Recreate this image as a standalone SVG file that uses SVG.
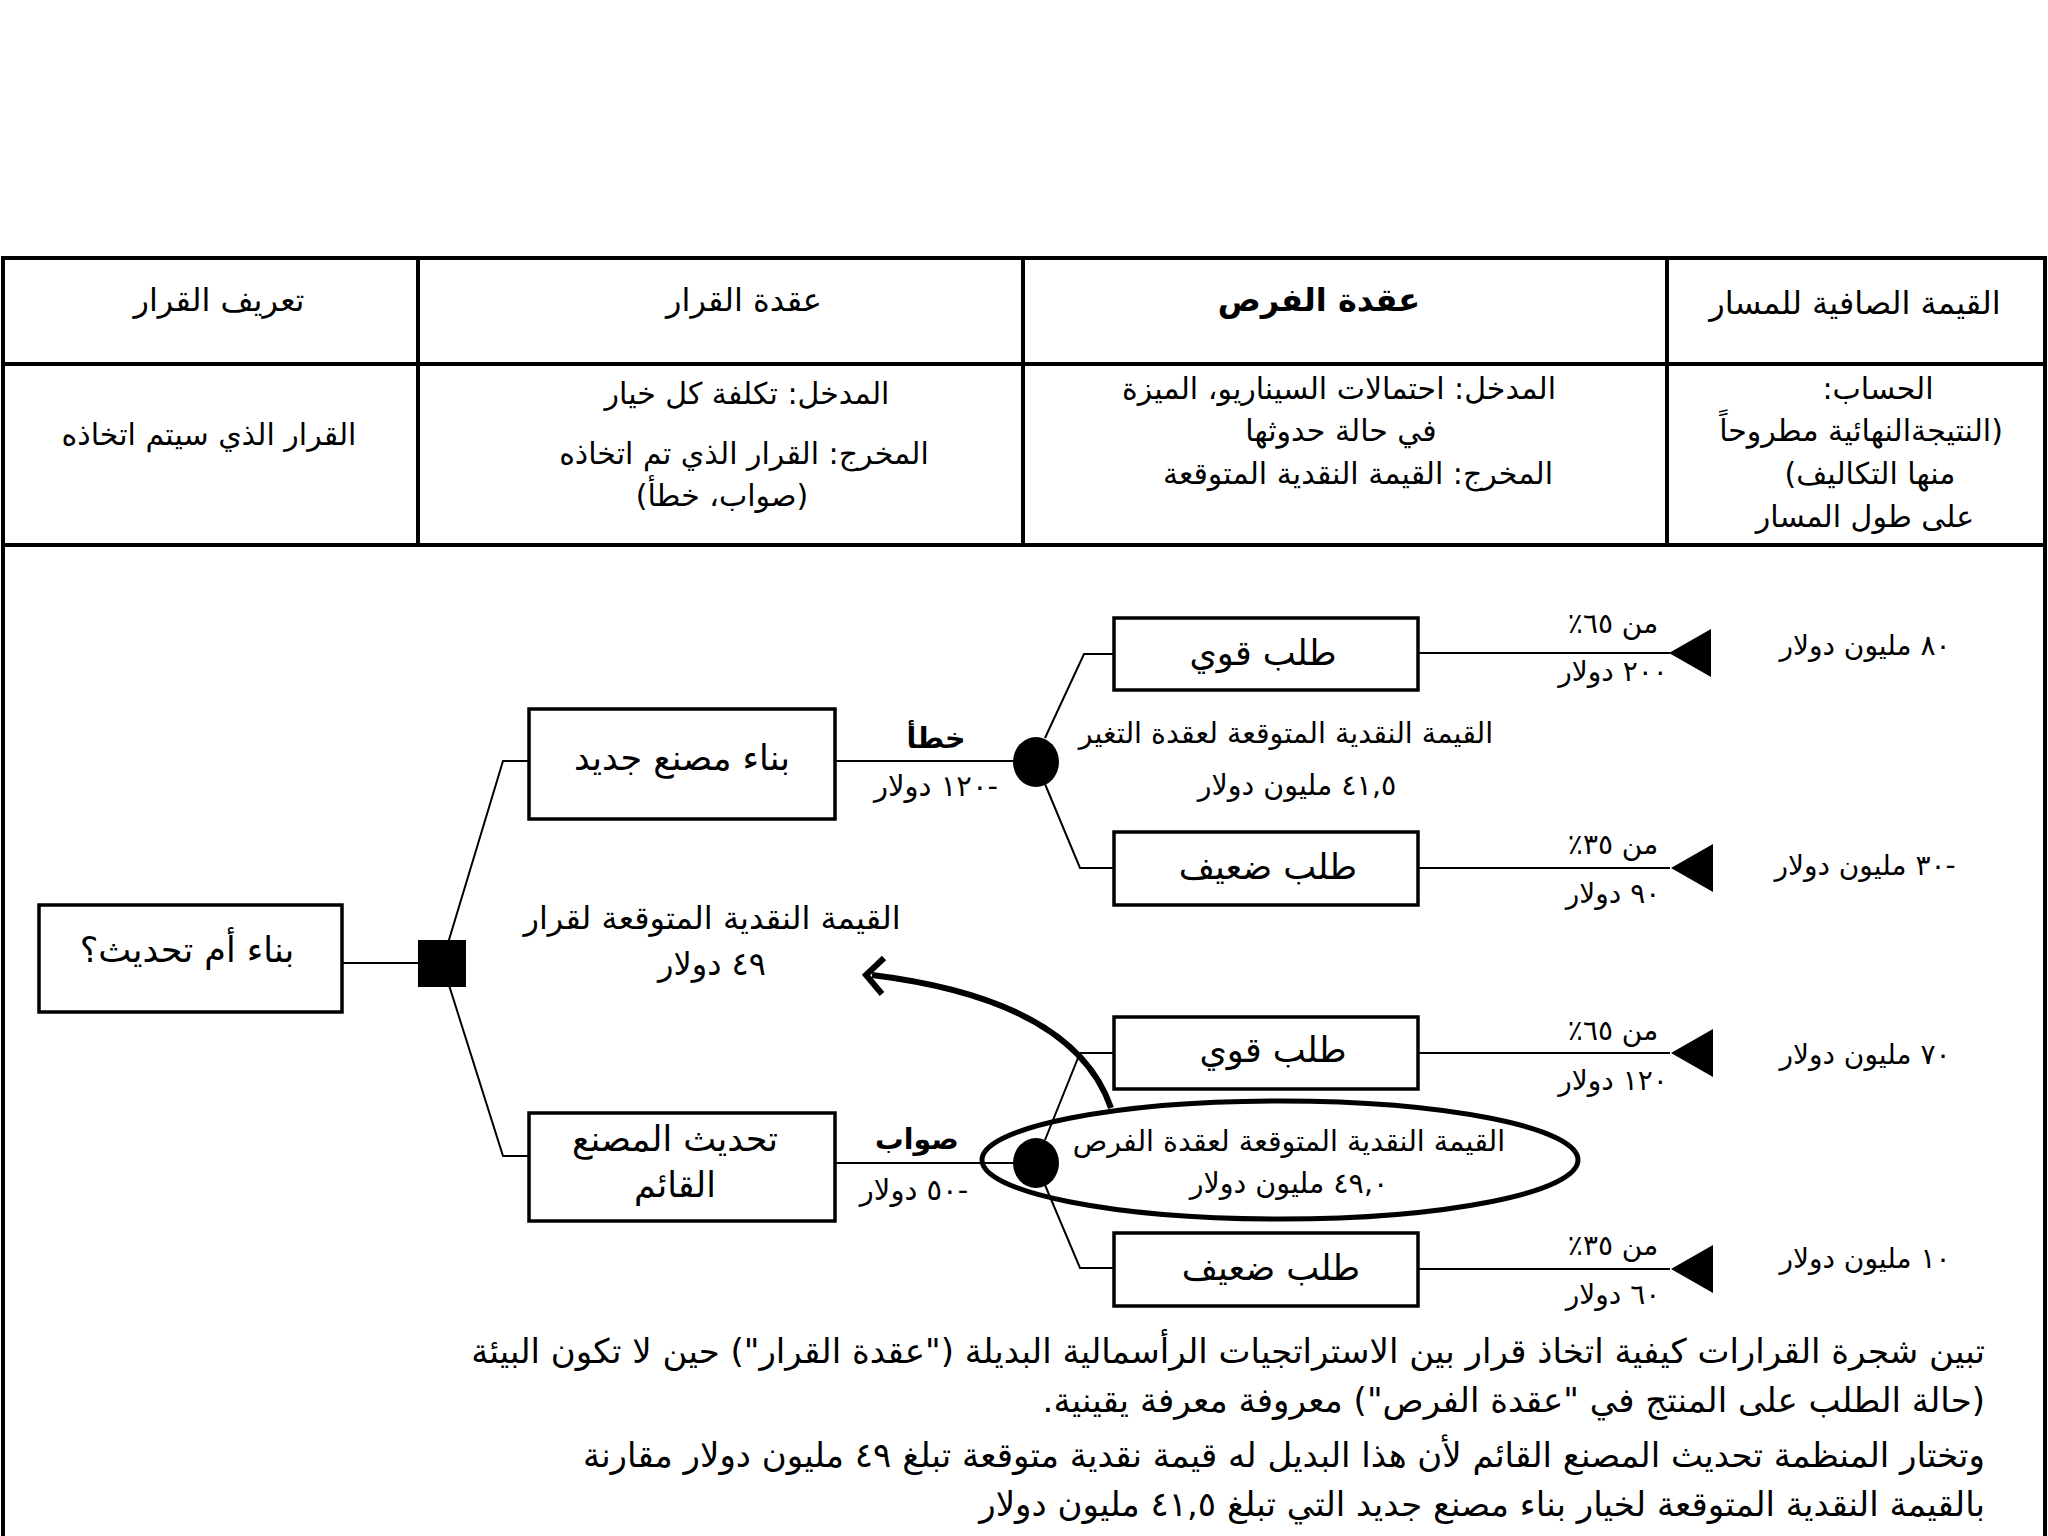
<svg xmlns="http://www.w3.org/2000/svg" width="2048" height="1536" viewBox="0 0 2048 1536">
<style>
text{font-family:"DejaVu Sans",sans-serif;fill:#000;direction:rtl;unicode-bidi:embed;text-anchor:middle}
.th{font-size:32px}
.tc{font-size:30px}
.nl{font-size:35px}
.sm{font-size:28px}
.ev{font-size:28.5px}
.am{font-size:29px}
.dv{font-size:32px}
.pr{font-size:34px;text-anchor:start}
.b{font-weight:bold}
.grid{stroke:#000;stroke-width:4;fill:none}
.box{fill:#fff;stroke:#000;stroke-width:3.5}
.ln{stroke:#000;stroke-width:2;fill:none}
</style>
<defs>
<polygon id="tri" points="0,0 42,-24 42,24" fill="#000"/>
</defs>
<rect width="2048" height="1536" fill="#fff"/>
<g id="table">
<path class="grid" d="M3,1536 V258 H2045 V1536 M3,364 H2045 M3,545 H2045 M418,258 V545 M1023,258 V545 M1667,258 V545"/>
<text class="th" x="219" y="311">تعريف القرار</text>
<text class="th" x="744" y="311">عقدة القرار</text>
<text class="th b" x="1319" y="311">عقدة الفرص</text>
<text class="th" x="1855" y="314">القيمة الصافية للمسار</text>
<text class="tc" x="209" y="445">القرار الذي سيتم اتخاذه</text>
<text class="tc" x="747" y="404">المدخل: تكلفة كل خيار</text>
<text class="tc" x="744" y="464">المخرج: القرار الذي تم اتخاذه</text>
<text class="tc" x="722" y="506">(صواب، خطأ)</text>
<text class="tc" x="1339" y="399">المدخل: احتمالات السيناريو، الميزة</text>
<text class="tc" x="1341" y="441">في حالة حدوثها</text>
<text class="tc" x="1358" y="484">المخرج: القيمة النقدية المتوقعة</text>
<text class="tc" x="1878" y="399">الحساب:</text>
<text class="tc" x="1861" y="441">(النتيجةالنهائية مطروحاً</text>
<text class="tc" x="1870" y="484">منها التكاليف)</text>
<text class="tc" x="1865" y="527">على طول المسار</text>
</g>
<g id="connectors">
<path class="ln" d="M342,963 H420"/>
<path class="ln" d="M442,963 L503,761 H530 M442,963 L503,1156 H530"/>
<path class="ln" d="M835,761 H1036"/>
<path class="ln" d="M1045,738 L1084,654 H1114 M1045,784 L1080,868 H1114"/>
<path class="ln" d="M1418,653 H1670 M1418,868 H1670"/>
<path class="ln" d="M835,1163 H1036"/>
<path class="ln" d="M1045,1140 L1080,1053 H1114 M1045,1185 L1080,1268 H1114"/>
<path class="ln" d="M1418,1053 H1670 M1418,1269 H1670"/>
</g>
<g id="root">
<rect class="box" x="39" y="905" width="303" height="107"/>
<text class="nl" x="187" y="962">بناء أم تحديث؟</text>
</g>
<g id="decision">
<rect x="418" y="940" width="48" height="47" fill="#000"/>
</g>
<g id="build">
<rect class="box" x="529" y="709" width="306" height="110"/>
<text class="nl" x="682" y="770">بناء مصنع جديد</text>
</g>
<g id="build-labels">
<text class="ev b" x="936" y="748">خطأ</text>
<text class="am" x="936" y="796">-١٢٠ دولار</text>
</g>
<g id="chance1">
<ellipse cx="1036" cy="762" rx="23" ry="25" fill="#000"/>
<text class="ev" x="1286" y="743">القيمة النقدية المتوقعة لعقدة التغير</text>
<text class="ev" x="1297" y="795">٤١,٥ مليون دولار</text>
</g>
<g id="strong1">
<rect class="box" x="1114" y="618" width="304" height="72"/>
<text class="nl" x="1263" y="665">طلب قوي</text>
</g>
<g id="weak1">
<rect class="box" x="1114" y="832" width="304" height="73"/>
<text class="nl" x="1268" y="879">طلب ضعيف</text>
</g>
<g id="end1">
<use href="#tri" x="1669" y="653"/>
<text class="sm" x="1613" y="633">من ٦٥٪</text>
<text class="sm" x="1613" y="681">٢٠٠ دولار</text>
<text class="sm" x="1865" y="655">٨٠ مليون دولار</text>
</g>
<g id="end2">
<use href="#tri" x="1671" y="868"/>
<text class="sm" x="1613" y="854">من ٣٥٪</text>
<text class="sm" x="1613" y="903">٩٠ دولار</text>
<text class="sm" x="1865" y="875">-٣٠ مليون دولار</text>
</g>
<g id="decision-ev">
<text class="dv" x="712" y="929">القيمة النقدية المتوقعة لقرار</text>
<text class="dv" x="712" y="975">٤٩ دولار</text>
</g>
<g id="upgrade">
<rect class="box" x="529" y="1113" width="306" height="108"/>
<text class="nl" x="675" y="1151">تحديث المصنع</text>
<text class="nl" x="675" y="1197">القائم</text>
</g>
<g id="upgrade-labels">
<text class="ev b" x="917" y="1149">صواب</text>
<text class="am" x="914" y="1200">-٥٠ دولار</text>
</g>
<g id="chance2">
<ellipse cx="1280" cy="1160" rx="298" ry="59" fill="none" stroke="#000" stroke-width="5"/>
<ellipse cx="1036" cy="1163" rx="23" ry="25" fill="#000"/>
<text class="ev" x="1289" y="1151">القيمة النقدية المتوقعة لعقدة الفرص</text>
<text class="ev" x="1289" y="1193">٤٩,٠ مليون دولار</text>
</g>
<g id="strong2">
<rect class="box" x="1114" y="1017" width="304" height="72"/>
<text class="nl" x="1273" y="1062">طلب قوي</text>
</g>
<g id="weak2">
<rect class="box" x="1114" y="1233" width="304" height="73"/>
<text class="nl" x="1271" y="1280">طلب ضعيف</text>
</g>
<g id="end3">
<use href="#tri" x="1671" y="1053"/>
<text class="sm" x="1613" y="1040">من ٦٥٪</text>
<text class="sm" x="1613" y="1090">١٢٠ دولار</text>
<text class="sm" x="1865" y="1064">٧٠ مليون دولار</text>
</g>
<g id="end4">
<use href="#tri" x="1671" y="1269"/>
<text class="sm" x="1613" y="1255">من ٣٥٪</text>
<text class="sm" x="1613" y="1304">٦٠ دولار</text>
<text class="sm" x="1865" y="1268">١٠ مليون دولار</text>
</g>
<g id="arrow">
<path d="M1111,1108 Q1074,1000 872,975" fill="none" stroke="#000" stroke-width="6"/>
<path d="M884,958 L866,975 L882,994" fill="none" stroke="#000" stroke-width="6" stroke-linejoin="miter"/>
</g>
<g id="caption">
<text class="pr" x="1985" y="1363">تبين شجرة القرارات كيفية اتخاذ قرار بين الاستراتجيات الرأسمالية البديلة ("عقدة القرار") حين لا تكون البيئة</text>
<text class="pr" x="1985" y="1412">(حالة الطلب على المنتج في "عقدة الفرص") معروفة معرفة يقينية.</text>
<text class="pr" x="1985" y="1467">وتختار  المنظمة تحديث المصنع القائم لأن هذا البديل له قيمة نقدية متوقعة تبلغ ٤٩ مليون دولار مقارنة</text>
<text class="pr" x="1985" y="1516">بالقيمة النقدية المتوقعة لخيار بناء مصنع جديد التي تبلغ ٤١,٥ مليون دولار</text>
</g>
</svg>
